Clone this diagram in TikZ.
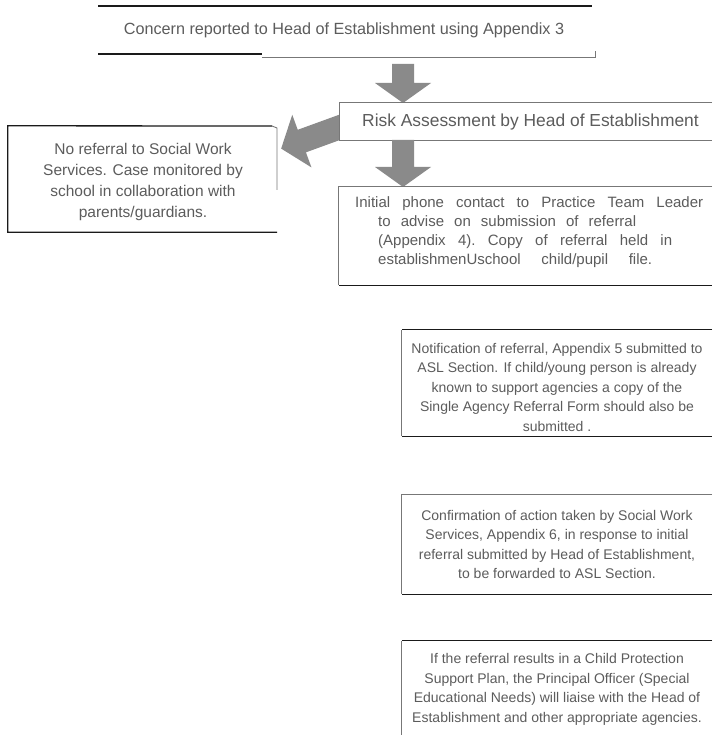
\documentclass[tikz,border=0pt]{standalone}
\usepackage{fontspec}
\setmainfont{Liberation Sans}
\definecolor{textgray}{HTML}{5C5C5C}
\definecolor{arrowgray}{HTML}{8A8A8A}
\definecolor{linegray}{HTML}{777777}
\definecolor{darkline}{HTML}{1A1A1A}
\newcommand{\spreadline}[2]{\hbox to #1{\frenchspacing\spaceskip=4pt plus 30pt\relax #2}}
\begin{document}
\begin{tikzpicture}[x=1pt,y=1pt,
  txt/.style={text=textgray, font=\fontsize{14}{19.5}\selectfont, align=center, inner sep=0pt},
  dline/.style={draw=darkline, line width=1.3pt},
  gline/.style={draw=linegray, line width=0.9pt},
  fatarrow/.style={fill=arrowgray}]
\useasboundingbox (0,0) rectangle (712,-735);
\fill[white] (0,0) rectangle (712,-735);

% top box
\node[txt, font=\fontsize{16.2}{19}\selectfont] (concern) at (344,-30) {Concern reported to Head of Establishment using Appendix 3};
\coordinate (cTL) at (98,-6);
\coordinate (cTR) at (592,-6);
\coordinate (cBL) at (98,-54);
\coordinate (cBM) at (262,-54);
\coordinate (cGM) at (262,-57);
\coordinate (cBR) at (595,-57);
\coordinate (cTick) at (595,-51);
\path[dline] (cTL) -- (cTR);
\path[dline] (cBL) -- (cBM);
\path[gline] (cGM) -- (cBR) -- (cTick);

% arrow 1
\fill[fatarrow] (392,-64) -- (414,-64) -- (414,-83) -- (431,-83) -- (403,-103) -- (375,-83) -- (392,-83) -- cycle;

% left arrow (under risk box)
\fill[fatarrow, shift={(346,-125)}, rotate=200] (0,-12) -- (47,-12) -- (47,-28) -- (69,0) -- (47,28) -- (47,12) -- (0,12) -- cycle;

% risk box
\node[minimum width=372pt, minimum height=37pt, inner sep=0pt, fill=white] (risk) at (526,-121.5) {};
\node[txt, font=\fontsize{17.4}{20}\selectfont, anchor=west] (risktxt) at (362,-122) {Risk Assessment by Head of Establishment};
\path[gline] (risk.north east) -- (risk.north west) -- (risk.south west) -- (risk.south east);

% arrow 2
\fill[fatarrow] (392,-140) -- (414,-140) -- (414,-167) -- (431,-167) -- (403,-187) -- (375,-167) -- (392,-167) -- cycle;

% no referral box
\node[minimum width=269pt, minimum height=106pt, inner sep=0pt] (noref) at (142.5,-179) {};
\node[txt, font=\fontsize{15.5}{21}\selectfont] (noreftxt) at (143,-182) {No referral to Social Work\\Services. Case monitored by\\school in collaboration with\\parents/guardians.};
\coordinate (nTR) at (272,-126);
\coordinate (nCorner) at (277,-128);
\coordinate (nRB) at (277,-190);
\path[dline] (nTR) -- (noref.north west) -- (noref.south west) -- (noref.south east);
\path[gline] (nTR) -- (nCorner) -- (nRB);

% initial phone contact box
\node[minimum width=373pt, minimum height=98pt, inner sep=0pt] (initial) at (525.5,-236) {};
\node[txt, align=left, anchor=north west, font=\fontsize{15}{19.2}\selectfont] (initialtxt) at (378,-196)
  {\hspace*{-23pt}\spreadline{348pt}{Initial phone contact to Practice Team Leader}\\\spreadline{258pt}{to advise on submission of referral}\\\spreadline{294pt}{(Appendix 4). Copy of referral held in}\\\spreadline{274pt}{establishmenUschool child/pupil file.}};
\path[gline] (initial.north east) -- (initial.north west) -- (initial.south west);
\path[dline] (initial.south west) -- (initial.south east);

% notification box
\node[minimum width=310pt, minimum height=106pt, inner sep=0pt] (notif) at (557,-383) {};
\node[txt, font=\fontsize{14}{19.5}\selectfont] (notiftxt) at (557,-387) {Notification of referral, Appendix 5 submitted to\\ASL Section. If child/young person is already\\known to support agencies a copy of the\\Single Agency Referral Form should also be\\submitted .};
\path[dline] (notif.north east) -- (notif.north west);
\path[gline] (notif.north west) -- (notif.south west);
\path[dline] (notif.south west) -- (notif.south east);

% confirmation box
\node[minimum width=310pt, minimum height=99pt, inner sep=0pt] (confirm) at (557,-544.5) {};
\node[txt, font=\fontsize{14}{19.5}\selectfont] (confirmtxt) at (557,-544.5) {Confirmation of action taken by Social Work\\Services, Appendix 6, in response to initial\\referral submitted by Head of Establishment,\\to be forwarded to ASL Section.};
\path[gline] (confirm.north east) -- (confirm.north west) -- (confirm.south west);
\path[dline] (confirm.south west) -- (confirm.south east);

% last box
\node[minimum width=310pt, minimum height=100pt, inner sep=0pt] (last) at (557,-691) {};
\node[txt, font=\fontsize{14}{19.5}\selectfont] (lasttxt) at (557,-689.5) {If the referral results in a Child Protection\\Support Plan, the Principal Officer (Special\\Educational Needs) will liaise with the Head of\\Establishment and other appropriate agencies.};
\path[dline] (last.north east) -- (last.north west);
\path[gline] (last.north west) -- (last.south west);
\end{tikzpicture}
\end{document}
